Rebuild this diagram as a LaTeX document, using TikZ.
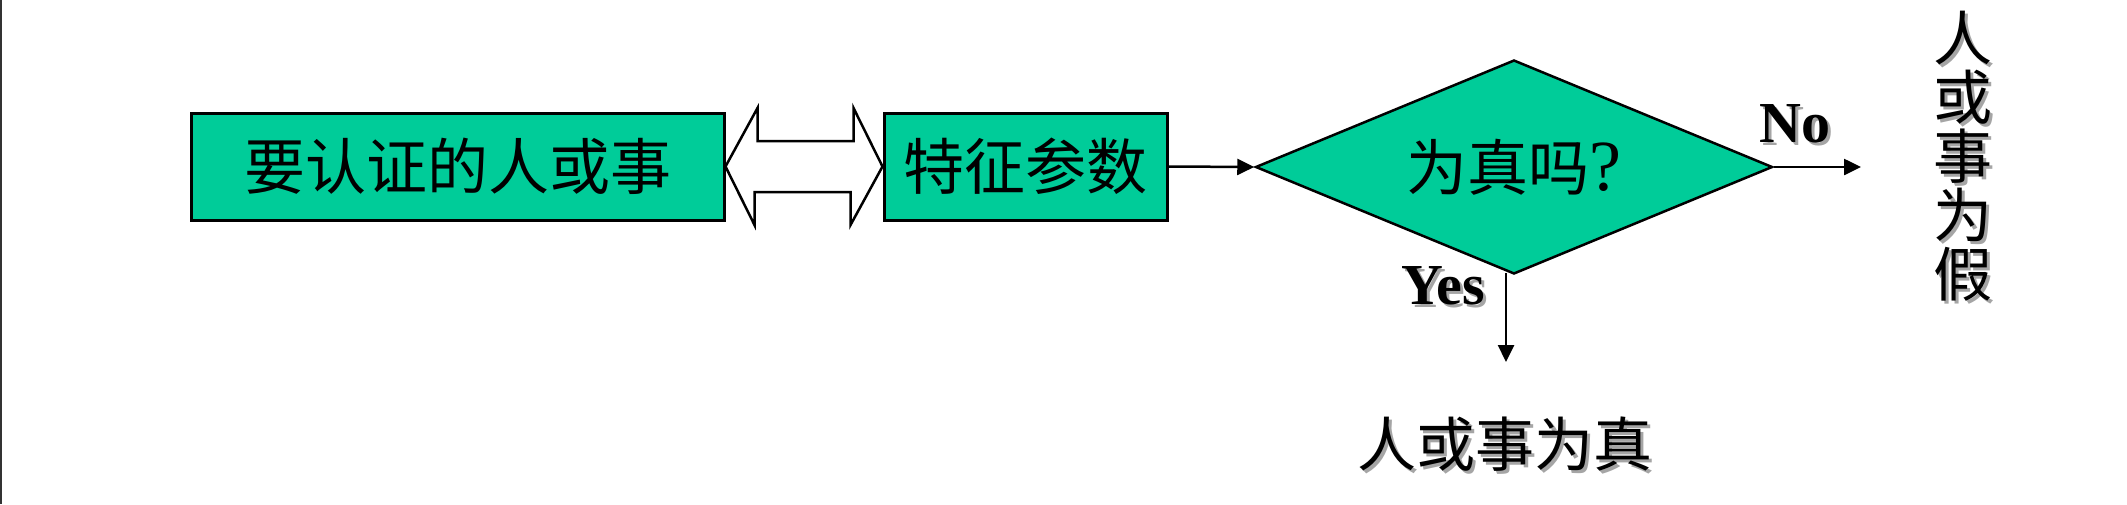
\documentclass[tikz,border=0pt]{standalone}
\usepackage{fontspec}
\setmainfont{Liberation Serif}
\newfontfamily\cjk{Noto Sans CJK SC}
\usetikzlibrary{arrows.meta,shapes.geometric,calc}
\definecolor{boxgreen}{RGB}{0,204,153}
\definecolor{shadowgray}{RGB}{165,165,165}
\newcommand{\shtext}[1]{\leavevmode\rlap{\hspace{3pt}\raisebox{-3pt}{\color{shadowgray}#1}}#1}
\tikzset{
  greenbox/.style={draw=black, line width=3pt, fill=boxgreen, minimum height=107pt,
    inner sep=0pt, font=\cjk\fontsize{61}{64}\selectfont},
  decision/.style={diamond, aspect=2.4, draw=black, line width=2.5pt, fill=boxgreen,
    minimum width=517pt, minimum height=214pt, inner sep=0pt,
    font=\cjk\fontsize{61}{64}\selectfont},
  flow/.style={line width=2.5pt, -{Triangle[length=17pt,width=16pt]}},
  lab/.style={font=\bfseries\fontsize{58}{60}\selectfont, inner sep=0pt},
  cjklab/.style={font=\cjk\fontsize{59}{59}\selectfont, inner sep=0pt},
  dblarrow/.style={draw=black, line width=2.5pt, fill=white}
}
\begin{document}
\begin{tikzpicture}[x=1pt,y=-1pt]
\useasboundingbox (0,0) rectangle (2127,504);
\draw[line width=2pt, black!80] (1,0) -- (1,504);
\node[greenbox, minimum width=533pt] (b1) at (457.5,166.5) {要认证的人或事};
\node[greenbox, minimum width=283pt] (b2) at (1025.5,166.5) {特征参数};
\node[decision] (d) at (1514,167) {为真吗{\rmfamily\fontsize{72}{64}\selectfont ?}};
\draw[dblarrow] (b1.east) -- ++(32,-58.5) -- ++(0,33) -- ++(96,0) -- ++(0,-33)
  -- (b2.west) -- ++(-32,58.5) -- ++(0,-33) -- ++(-96,0) -- ++(0,33) -- cycle;
\draw[flow] (b2.east) -- (d.west);
\coordinate (noend) at (1861,167);
\draw[flow] (d.east) -- (noend);
\coordinate (yesstart) at (1506,273);
\coordinate (yesend) at (1506,362);
\draw[flow] (yesstart) -- (yesend);
\node[lab] (no) at (1795,125) {\shtext{No}};
\node[lab] (yes) at (1443,287) {\shtext{Yes}};
\node[cjklab] (true) at (1505,446) {\shtext{人或事为真}};
\node[cjklab, align=center] (false) at (1963,158)
  {\shtext{人}\\\shtext{或}\\\shtext{事}\\\shtext{为}\\\shtext{假}};
\end{tikzpicture}
\end{document}
